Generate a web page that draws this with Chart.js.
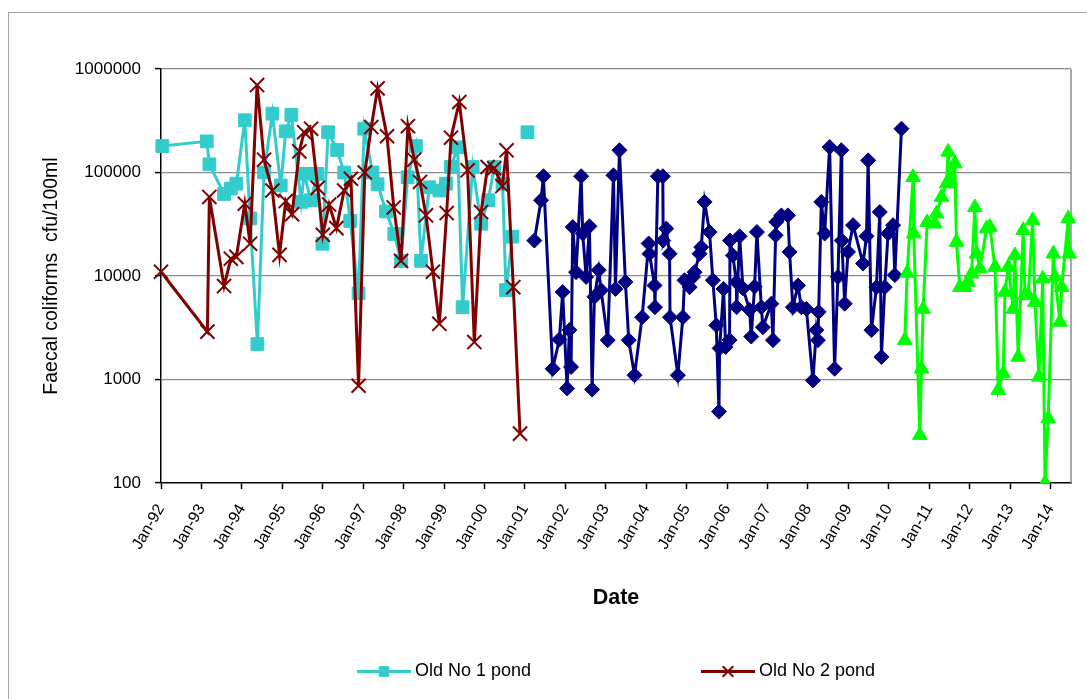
<!DOCTYPE html>
<html>
<head>
<meta charset="utf-8">
<script src="https://cdn.jsdelivr.net/npm/chart.js@4.4.1/dist/chart.umd.min.js"></script>
<style>
  html, body { margin: 0; padding: 0; background: #ffffff; }
  canvas { display: block; }
</style>
</head>
<body>
<canvas id="chart" width="1087" height="699"></canvas>
<script>
// Faecal coliform counts (cfu/100ml) in the oxidation ponds, 1992-2014

const seriesNames = ['Old No 1 pond', 'Old No 2 pond', 'New No 1 pond', 'New No 2 pond'];

const pond1Dates = ['1992-01-13','1993-02-18','1993-03-13','1993-07-24','1993-09-23','1993-11-12',
  '1994-01-27','1994-03-16','1994-05-21','1994-07-20','1994-10-03','1994-12-18',
  '1995-02-01','1995-03-24','1995-06-20','1995-07-17','1995-09-16','1995-11-14','1995-12-30',
  '1996-02-19','1996-05-11','1996-07-13','1996-09-06','1996-11-20',
  '1997-01-10','1997-03-26','1997-05-11','1997-07-26','1997-10-09','1997-12-09',
  '1998-02-06','1998-04-22','1998-06-07','1998-08-21','1998-11-20',
  '1999-01-19','1999-03-05','1999-05-04','1999-06-18','1999-09-17','1999-12-02',
  '2000-02-05','2000-03-30','2000-06-13','2000-07-14','2000-09-10','2000-11-15','2001-01-24'];
const pond1Values = [180000,200000,120000,62000,70000,78000,
  320000,36000,2200,100000,370000,75000,
  250000,360000,52000,97000,54000,97000,20500,
  245000,165000,100000,34000,6800,
  265000,100000,77000,42000,25500,14000,
  90000,180000,14000,72000,67000,
  78000,113000,175000,5000,113000,32000,
  54000,113000,78000,7300,24000,null,245000];

const pond2Dates = ['1992-01-01','1993-02-23','1993-03-13','1993-07-24','1993-09-23','1993-11-12',
  '1994-01-27','1994-03-16','1994-05-18','1994-07-20','1994-10-03','1994-12-07',
  '1995-02-01','1995-03-30','1995-06-04','1995-07-17','1995-09-18','1995-11-17',
  '1996-01-02','1996-02-28','1996-05-04','1996-07-13','1996-09-12','1996-11-20',
  '1997-01-15','1997-03-15','1997-05-11','1997-08-04','1997-10-04','1997-12-09',
  '1998-02-09','1998-04-07','1998-05-29','1998-07-22','1998-09-23','1998-11-20',
  '1999-01-25','1999-03-05','1999-05-19','1999-08-02','1999-10-02','1999-12-02',
  '2000-01-30','2000-03-30','2000-06-11','2000-07-19','2000-09-18','2000-11-18'];
const pond2Values = [11000,2900,58000,8000,14700,15300,
  50000,20500,700000,133000,67000,16000,
  53000,39500,160000,245000,265000,71000,
  25000,49000,29000,67000,87000,870,
  100000,275000,650000,224000,46000,14000,
  280000,133000,81000,38600,11000,3450,
  40600,217000,480000,105000,2300,41500,
  113000,110000,74000,164000,7800,300];

const pond3Dates = ['2001-03-27','2001-05-27','2001-06-17','2001-09-09','2001-11-08','2001-12-08',
  '2002-01-17','2002-02-07','2002-02-22','2002-03-09','2002-04-08','2002-05-24','2002-06-07',
  '2002-07-08','2002-08-07','2002-08-31','2002-09-21','2002-10-30','2002-11-20',
  '2003-01-19','2003-03-12','2003-03-30','2003-05-05','2003-06-28','2003-07-28','2003-09-18','2003-11-26',
  '2004-01-24','2004-02-01','2004-03-17','2004-03-21','2004-04-16','2004-05-31','2004-06-03',
  '2004-07-01','2004-07-31','2004-08-04','2004-10-14','2004-11-28','2004-12-13',
  '2005-01-28','2005-02-27','2005-03-14','2005-04-28','2005-05-13','2005-06-12','2005-07-27',
  '2005-08-26','2005-09-26','2005-10-20','2005-10-26','2005-12-01','2005-12-19',
  '2006-01-24','2006-01-28','2006-02-23','2006-03-26','2006-03-29','2006-04-25','2006-05-25',
  '2006-07-24','2006-08-08','2006-09-07','2006-09-28','2006-11-07','2006-11-21',
  '2007-02-05','2007-02-20','2007-03-16','2007-03-22','2007-05-07','2007-07-05','2007-07-20',
  '2007-08-19','2007-10-04','2007-11-03','2007-12-19',
  '2008-02-16','2008-03-18','2008-04-01','2008-04-08','2008-05-02','2008-06-01','2008-07-16',
  '2008-08-30','2008-09-29','2008-10-30','2008-11-03','2008-11-29','2008-12-29',
  '2009-02-13','2009-05-14','2009-06-14','2009-06-29','2009-07-29','2009-09-12','2009-10-12',
  '2009-10-27','2009-11-26','2009-12-26','2010-02-09','2010-02-25','2010-04-26'];
const pond3Values = [22000,54000,92000,1270,2430,7000,
  820,3000,1320,29700,10900,92000,25700,
  9800,30200,800,6300,11400,7300,
  2400,94000,7500,164000,8750,2400,1100,4000,
  20600,16400,8100,5000,92000,92000,22000,
  28700,16400,4000,1100,4000,9100,
  7800,9800,10900,16400,19000,52000,26600,
  9100,3340,490,2000,7500,2060,
  2400,22000,15800,8750,5000,24200,7600,
  4700,2600,7900,26600,5000,3200,
  5400,2400,24700,33300,38500,38500,17100,
  5000,8100,5000,4800,
  980,3000,2400,4500,52000,25700,176000,
  1270,9800,164000,22000,5400,17100,
  31000,13200,24200,131000,3000,7800,41500,
  1650,7800,25700,31000,10200,265000];

const pond4Dates = ['2010-05-26','2010-06-16','2010-08-09','2010-08-15','2010-10-09','2010-10-24',
  '2010-11-08','2010-12-14','2011-02-21','2011-03-09','2011-04-23','2011-06-07','2011-06-22',
  '2011-07-10','2011-08-21','2011-09-05','2011-10-05','2011-11-19','2011-12-19',
  '2012-01-19','2012-02-18','2012-03-05','2012-04-04','2012-06-03','2012-07-03','2012-08-18',
  '2012-09-17','2012-11-01','2012-11-16','2012-12-16',
  '2013-01-30','2013-02-14','2013-03-16','2013-04-30','2013-05-16','2013-06-15','2013-07-24',
  '2013-08-14','2013-09-19','2013-10-23','2013-11-13','2013-12-12',
  '2014-01-27','2014-02-11','2014-03-28','2014-04-13','2014-06-11','2014-06-20'];
const pond4Values = [2400,10700,90000,25700,290,1270,
  4800,33000,32000,40000,58000,78000,158000,
  84000,122000,21300,7800,7800,8750,
  10500,46000,16400,11800,28700,29700,12200,
  790,1140,7000,12200,
  4800,15800,1650,27700,6500,6500,34500,
  5600,1060,9400,100,420,
  16400,9800,3600,7800,36000,16400];

const xTickLabels = ['Jan-92','Jan-93','Jan-94','Jan-95','Jan-96','Jan-97','Jan-98','Jan-99',
  'Jan-00','Jan-01','Jan-02','Jan-03','Jan-04','Jan-05','Jan-06','Jan-07','Jan-08','Jan-09',
  'Jan-10','Jan-11','Jan-12','Jan-13','Jan-14'];
const yTickValues = [100, 1000, 10000, 100000, 1000000];
const yTickLabels = ['100', '1000', '10000', '100000', '1000000'];

// ---------------------------------------------------------------------------

const DAY = 86400000;
const tickTimes = xTickLabels.map(l => {
  const yy = parseInt(l.slice(4), 10);
  return Date.UTC(yy < 50 ? 2000 + yy : 1900 + yy, 0, 1);
});
const xMin = tickTimes[0];
const xMax = xMin + 22.51 * 365.25 * DAY;

function points(dates, values) {
  return dates.map((d, i) => ({ x: Date.parse(d), y: values[i] }));
}

const FONT = "'Liberation Sans', Arial, sans-serif";

const styles = [
  { color: '#33CCCC', point: 'rect', radius: 9, pbw: 1 },
  { color: '#800000', point: 'crossRot', radius: 10, pbw: 2 },
  { color: '#000080', point: 'rectRot', radius: 7.5, pbw: 1 },
  { color: '#00FF00', point: 'triangle', radius: 8.5, pbw: 1 }
];
const seriesData = [
  points(pond1Dates, pond1Values),
  points(pond2Dates, pond2Values),
  points(pond3Dates, pond3Values),
  points(pond4Dates, pond4Values)
];

const datasets = seriesData.map((data, i) => ({
  label: seriesNames[i],
  data: data,
  borderColor: styles[i].color,
  backgroundColor: styles[i].color,
  borderWidth: 3,
  pointStyle: styles[i].point,
  pointRadius: styles[i].radius,
  pointHoverRadius: styles[i].radius,
  pointBackgroundColor: styles[i].color,
  pointBorderColor: styles[i].color,
  pointBorderWidth: styles[i].pbw,
  tension: 0,
  spanGaps: false,
  order: 4 - i,
  clip: { left: 14, top: 14, right: 14, bottom: 0 }
}));

// Frame around the whole chart and the right edge of the plot area
const framePlugin = {
  id: 'frame',
  beforeDraw(chart) {
    const ctx = chart.ctx;
    ctx.save();
    ctx.fillStyle = '#ffffff';
    ctx.fillRect(0, 0, chart.width, chart.height);
    ctx.strokeStyle = '#a6a6a6';
    ctx.lineWidth = 1;
    ctx.strokeRect(8.5, 12.5, chart.width + 20, chart.height + 20);
    ctx.restore();
  },
  beforeDatasetsDraw(chart) {
    const a = chart.chartArea;
    const ctx = chart.ctx;
    ctx.save();
    ctx.strokeStyle = '#8c8c8c';
    ctx.lineWidth = 1.5;
    ctx.beginPath();
    ctx.moveTo(a.right, a.top);
    ctx.lineTo(a.right, a.bottom);
    ctx.stroke();
    ctx.restore();
  }
};

// Legend with a line sample through the marker, as for the first two series
const legendPlugin = {
  id: 'lineLegend',
  afterDraw(chart, args, opts) {
    const ctx = chart.ctx;
    const y = opts.y;
    ctx.save();
    ctx.font = '18px ' + FONT;
    ctx.textBaseline = 'middle';
    ctx.fillStyle = '#000';
    opts.items.forEach(item => {
      const st = styles[item.index];
      ctx.strokeStyle = st.color;
      ctx.lineWidth = 3;
      ctx.beginPath();
      ctx.moveTo(item.x, y);
      ctx.lineTo(item.x + opts.sample, y);
      ctx.stroke();
      ctx.fillStyle = st.color;
      ctx.strokeStyle = st.color;
      ctx.lineWidth = st.pbw;
      Chart.helpers.drawPoint(ctx, { pointStyle: st.point, radius: st.radius * 0.75, rotation: 0, borderWidth: st.pbw },
        item.x + opts.sample / 2, y);
      ctx.fillStyle = '#000';
      ctx.fillText(seriesNames[item.index], item.x + opts.sample + 4, y);
    });
    ctx.restore();
  }
};

new Chart(document.getElementById('chart'), {
  type: 'line',
  data: { datasets: datasets },
  plugins: [framePlugin, legendPlugin],
  options: {
    responsive: false,
    animation: false,
    events: [],
    layout: { padding: { top: 69, right: 16, left: 0, bottom: 0 } },
    plugins: {
      legend: { display: false },
      tooltip: { enabled: false },
      lineLegend: {
        y: 671.5,
        sample: 54,
        items: [{ index: 0, x: 357 }, { index: 1, x: 701 }]
      }
    },
    scales: {
      x: {
        type: 'linear',
        min: xMin,
        max: xMax,
        afterBuildTicks(scale) {
          scale.ticks = tickTimes.map(v => ({ value: v }));
        },
        afterFit(scale) { scale.height = 216; },
        ticks: {
          autoSkip: false,
          minRotation: 60,
          maxRotation: 60,
          padding: 12,
          color: '#000',
          font: { family: FONT, size: 16 },
          callback: (v, i) => xTickLabels[i]
        },
        grid: { drawOnChartArea: false, drawTicks: true, tickLength: 6, tickColor: '#000', tickWidth: 1.5 },
        border: { display: true, color: '#000', width: 1.5 },
        title: {
          display: true,
          text: 'Date',
          color: '#000',
          font: { family: FONT, size: 21.5, weight: 'bold' },
          padding: { top: 0, bottom: 88 }
        }
      },
      y: {
        type: 'logarithmic',
        min: 100,
        max: 1000000,
        afterBuildTicks(scale) {
          scale.ticks = yTickValues.map(v => ({ value: v }));
        },
        afterFit(scale) { scale.width = 161; },
        ticks: {
          padding: 14,
          color: '#000',
          font: { family: FONT, size: 17 },
          callback: (v, i) => yTickLabels[i]
        },
        grid: {
          color: c => (c.tick && c.tick.value === 100 ? 'rgba(0,0,0,0)' : '#8c8c8c'),
          lineWidth: 1.2,
          drawTicks: true,
          tickLength: 6,
          tickColor: '#000',
          tickWidth: 1.5
        },
        border: { display: true, color: '#000', width: 1.5 },
        title: {
          display: true,
          text: 'Faecal coliforms  cfu/100ml',
          color: '#000',
          font: { family: FONT, size: 19.5 },
          padding: { top: 40, bottom: 0 }
        }
      }
    }
  }
});
</script>
</body>
</html>
